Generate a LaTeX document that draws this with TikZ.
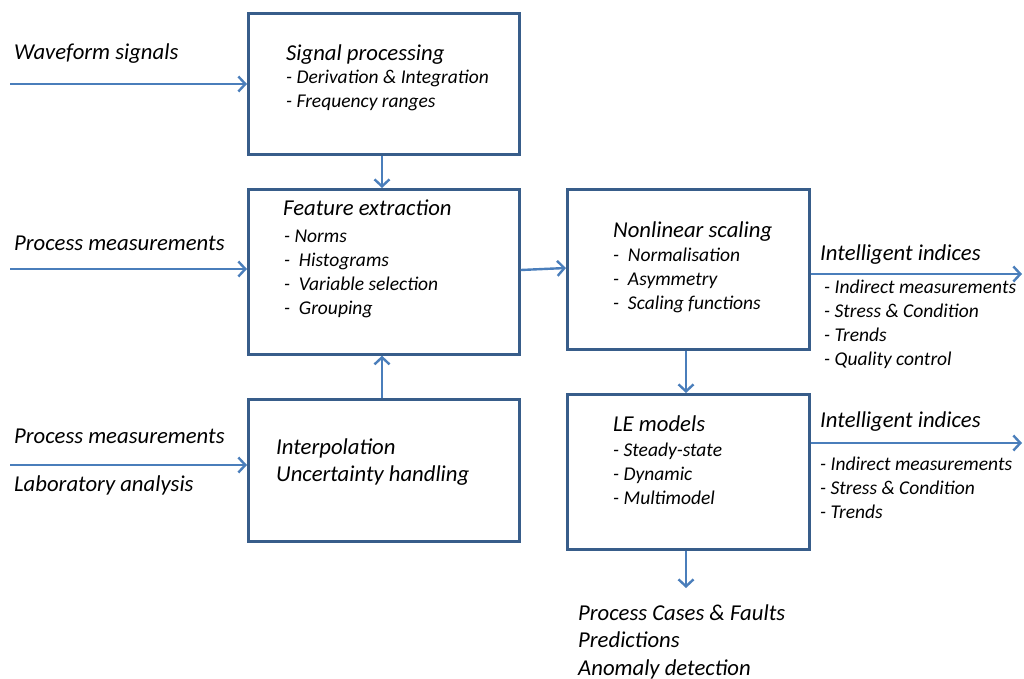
\documentclass[tikz,border=0pt]{standalone}
\usepackage{fontspec}
\setmainfont{Carlito}
\usetikzlibrary{arrows.meta}
\definecolor{boxline}{HTML}{385D8A}
\definecolor{flow}{HTML}{4A7EBB}
\tikzset{
  block/.style={draw=boxline, line width=2.7pt, rectangle, anchor=north west, inner sep=0pt},
  title/.style={anchor=base west, inner sep=0pt, yshift=-7pt, font=\fontsize{22.7}{26}\selectfont\itshape},
  item/.style={anchor=base west, inner sep=0pt, yshift=-6pt, font=\fontsize{19.5}{23}\selectfont\itshape},
  flowline/.style={draw=flow, line width=2.4pt, -{Straight Barb[length=7pt,width=15pt]}},
}
\begin{document}
\begin{tikzpicture}[x=1pt, y=-1pt]
      \useasboundingbox (0,0) rectangle (1024,679);
      % blocks
      \node[block, minimum width=271, minimum height=141] (sigp) at (247,12) {};
      \node[block, minimum width=271, minimum height=165] (feat) at (247,188) {};
      \node[block, minimum width=271, minimum height=142] (interp) at (247,398) {};
      \node[block, minimum width=242, minimum height=160] (scal) at (566,188) {};
      \node[block, minimum width=242, minimum height=155] (lem) at (566,393) {};

      % signal processing
      \node[title] (sigpt) at (286,54) {Signal processing};
      \node[item] (sigp1) at (286,78) {- Derivation \& Integration};
      \node[item] (sigp2) at (286,102) {- Frequency ranges};

      % feature extraction
      \node[title] (featt) at (283,208) {Feature extraction};
      \foreach \t [count=\i] in {-~Norms, -~~Histograms, -~~Variable selection, -~~Grouping}
      {
        \node[item] (feat\i) at (284,212+24*\i) {\t};
      }

      % interpolation
      \node[title] (interp1) at (276,447) {Interpolation};
      \node[title] (interp2) at (276,474) {Uncertainty handling};

      % nonlinear scaling
      \node[title] (scalt) at (613,230) {Nonlinear scaling};
      \foreach \t [count=\i] in {Normalisation, Asymmetry, Scaling functions}
      {
        \node[item] (scal\i) at (613,231+24*\i) {-~~\t};
      }

      % LE models
      \node[title] (lemt) at (613,424) {LE models};
      \foreach \t [count=\i] in {Steady-state, Dynamic, Multimodel}
      {
        \node[item] (lem\i) at (613,426+24*\i) {- \t};
      }

      % inputs
      \node[title] (wave) at (14,53) {Waveform signals};
      \node[title] (pm1) at (14,243) {Process measurements};
      \node[title] (pm2) at (14,436) {Process measurements};
      \node[title] (lab) at (14,484) {Laboratory analysis};
      \coordinate (wavein) at (10,84);
      \coordinate (pm1in) at (10,269);
      \coordinate (labin) at (10,465);
      \draw[flowline] (wavein) -- (wavein -| sigp.west);
      \draw[flowline] (pm1in) -- (pm1in -| feat.west);
      \draw[flowline] (labin) -- (labin -| interp.west);

      % outputs
      \node[title] (ind1) at (820,253) {Intelligent indices};
      \foreach \t [count=\i] in {-~Indirect measurements, - Stress \& Condition, - Trends, - Quality control}
      {
        \node[item] (ind1\i) at (824,263+24*\i) {\t};
      }
      \node[title] (ind2) at (820,420) {Intelligent indices};
      \foreach \t [count=\i] in {-~Indirect measurements, - Stress \& Condition, - Trends}
      {
        \node[item] (ind2\i) at (820,440+24*\i) {\t};
      }
      \coordinate (ind1out) at (1022,274);
      \coordinate (ind2out) at (1022,443);
      \draw[flowline] (ind1out -| scal.east) -- (ind1out);
      \draw[flowline] (ind2out -| lem.east) -- (ind2out);

      \node[title] (out1) at (578,613) {Process Cases \& Faults};
      \node[title] (out2) at (578,640) {Predictions};
      \node[title] (out3) at (578,668) {Anomaly detection};
      \coordinate (lemout) at (686,588);

      % links between blocks
      \draw[flowline] (sigp.south -| 382,0) -- (feat.north -| 382,0);
      \draw[flowline] (interp.north -| 382,0) -- (feat.south -| 382,0);
      \draw[flowline] (feat.east |- 0,270) -- (scal.west |- 0,268);
      \draw[flowline] (scal.south -| 686,0) -- (lem.north -| 686,0);
      \draw[flowline] (lem.south -| lemout) -- (lemout);
\end{tikzpicture}
\end{document}
